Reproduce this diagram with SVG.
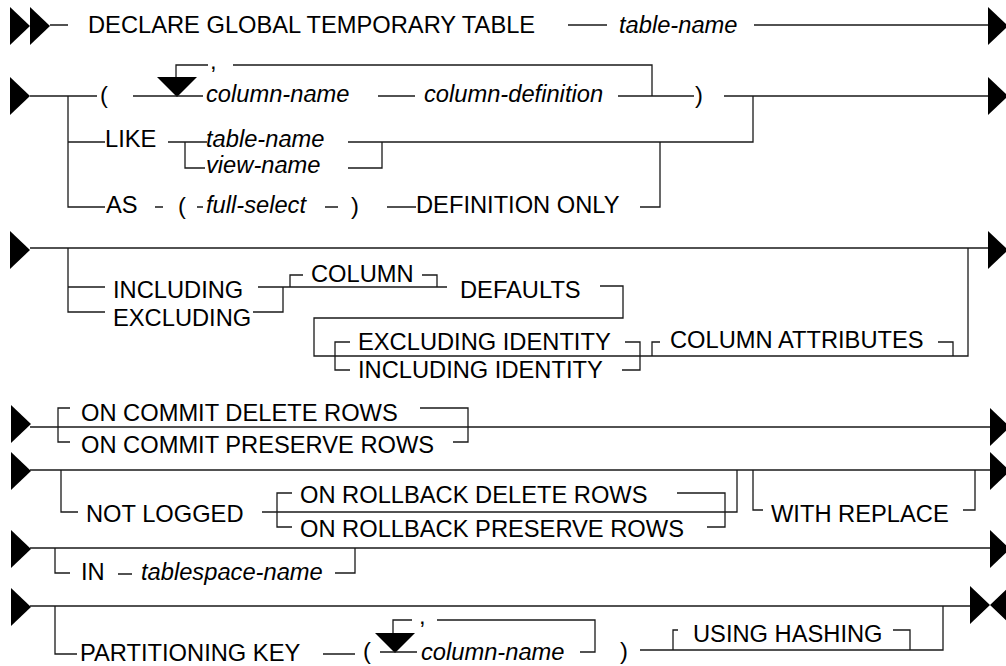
<svg xmlns="http://www.w3.org/2000/svg" width="1006" height="666" viewBox="0 0 1006 666">
<defs>
<style>
text{font-family:"Liberation Sans",Arial,sans-serif;font-size:23.7px;fill:#000}
.it{font-style:italic}
.ln{fill:none;stroke:#1a1a1a;stroke-width:1.3}
.ar{fill:#000;stroke:none}
</style>
<path id="ra" d="M0,-19 L20,0 L0,19 Z"/>
<path id="da" d="M-20,0 L20,0 L0,20 Z"/>
</defs>
<rect width="1006" height="666" fill="#fff"/>

<g id="connectors">
<g class="ar">
<use href="#ra" x="10" y="26"/><use href="#ra" x="30" y="26"/>
<use href="#ra" x="988" y="26"/>
<use href="#ra" x="10" y="96"/><use href="#ra" x="988" y="96"/>
<use href="#ra" x="10" y="250"/><use href="#ra" x="988" y="250"/>
<use href="#ra" x="11" y="424"/><use href="#ra" x="990" y="427"/>
<use href="#ra" x="11" y="471"/><use href="#ra" x="990" y="471"/>
<use href="#ra" x="11" y="549"/><use href="#ra" x="990" y="549"/>
<use href="#ra" x="11" y="607"/>
<path d="M970,586 L990,605 L970,624 Z M1010,586 L990,605 L1010,624 Z"/>
<use href="#da" x="177" y="77"/>
<use href="#da" x="395" y="633"/>
</g>
<g class="ln">
<path d="M50,25 H68 M568,25 H607 M754,25 H988"/>
<path d="M30,96 H97 M133,96 H203 M176,77 V65 H208 M233,65 H652 V96 M378,96 H415 M618,96 H694 M724,96 H988"/>
<path d="M68,96 V207 H105 M68,142 H105"/>
<path d="M168,142 H207 M185,142 V168 H205 M348,142 H753 V96 M348,168 H382 V142"/>
<path d="M155,207 H163 M197,207 H203 M325,207 H338 M387,207 H416 M640,207 H660 V142"/>
<path d="M30,248 H988 M68,248 V312 H105 M68,287 H105"/>
<path d="M258,287 H447 M283,287 V312 H253 M290,287 V275 H303 M422,275 H437 V287"/>
<path d="M600,286 H623 V318 H314 V356 H968 V248"/>
<path d="M350,342 H335 V370 H350 M625,342 H640 V370 H622 M652,356 V342 H660 M938,342 H953 V356"/>
<path d="M30,427 H990 M70,408 H58 V442 H70 M420,408 H468 V442 H453"/>
<path d="M30,470 H990 M61,470 V512 H78 M262,512 H737 V470 M292,493 H277 V527 H292 M677,493 H725 V527 H707 M753,470 V510 H763 M963,510 H975 V470"/>
<path d="M30,548 H990 M55,548 V573 H70 M118,574 H132 M335,573 H355 V548"/>
<path d="M30,606 H970 M55,606 V654 H77 M323,654 H355 M380,652 H417 M393,633 V620 H412 M437,620 H595 V652 H580 M640,650 H943 V606 M673,650 V630 H678 M893,630 H910 V650"/>
</g>
</g>

<g id="n-declare"><text x="88" y="33">DECLARE GLOBAL TEMPORARY TABLE</text></g>
<g id="n-table-name"><text class="it" x="619" y="33">table-name</text></g>

<g id="n-lparen1"><text x="100" y="103">(</text></g>
<g id="n-comma1"><text x="210" y="69">,</text></g>
<g id="n-column-name1"><text class="it" x="206" y="102">column-name</text></g>
<g id="n-column-definition"><text class="it" x="424" y="102">column-definition</text></g>
<g id="n-rparen1"><text x="695" y="103">)</text></g>

<g id="n-like"><text x="105" y="147">LIKE</text></g>
<g id="n-like-table-name"><text class="it" x="206" y="147">table-name</text></g>
<g id="n-view-name"><text class="it" x="206" y="173">view-name</text></g>

<g id="n-as"><text x="106" y="213">AS</text></g>
<g id="n-lparen2"><text x="178" y="214">(</text></g>
<g id="n-full-select"><text class="it" x="206" y="213">full-select</text></g>
<g id="n-rparen2"><text x="351" y="214">)</text></g>
<g id="n-definition-only"><text x="416" y="213">DEFINITION ONLY</text></g>

<g id="n-including"><text x="113" y="298">INCLUDING</text></g>
<g id="n-excluding"><text x="113" y="326">EXCLUDING</text></g>
<g id="n-column"><text x="311" y="282">COLUMN</text></g>
<g id="n-defaults"><text x="460" y="298">DEFAULTS</text></g>
<g id="n-excluding-identity"><text x="358" y="350">EXCLUDING IDENTITY</text></g>
<g id="n-including-identity"><text x="358" y="378">INCLUDING IDENTITY</text></g>
<g id="n-column-attributes"><text x="670" y="348">COLUMN ATTRIBUTES</text></g>

<g id="n-commit-delete"><text x="81" y="421">ON COMMIT DELETE ROWS</text></g>
<g id="n-commit-preserve"><text x="81" y="453">ON COMMIT PRESERVE ROWS</text></g>

<g id="n-not-logged"><text x="86" y="522">NOT LOGGED</text></g>
<g id="n-rollback-delete"><text x="300" y="503">ON ROLLBACK DELETE ROWS</text></g>
<g id="n-rollback-preserve"><text x="300" y="537">ON ROLLBACK PRESERVE ROWS</text></g>
<g id="n-with-replace"><text x="771" y="522">WITH REPLACE</text></g>

<g id="n-in"><text x="81" y="580">IN</text></g>
<g id="n-tablespace-name"><text class="it" x="141" y="580">tablespace-name</text></g>

<g id="n-partitioning-key"><text x="80" y="661">PARTITIONING KEY</text></g>
<g id="n-lparen3"><text x="363" y="659">(</text></g>
<g id="n-comma2"><text x="419" y="624">,</text></g>
<g id="n-column-name2"><text class="it" x="421" y="660">column-name</text></g>
<g id="n-rparen3"><text x="620" y="659">)</text></g>
<g id="n-using-hashing"><text x="693" y="642">USING HASHING</text></g>
</svg>
